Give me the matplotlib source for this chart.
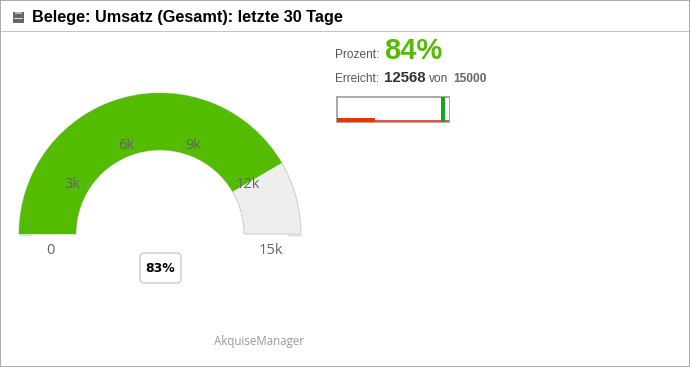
import matplotlib
matplotlib.use("Agg")
import matplotlib.pyplot as plt
import numpy as np
from matplotlib.patches import Wedge, Rectangle, FancyBboxPatch

# values
gauge_min = 0
gauge_max = 15000
gauge_value = 12480  # the green band stops at about 83%, not at the 12568 in the text
gauge_ticks = [0, 3000, 6000, 9000, 12000, 15000]
gauge_tick_labels = ["0", "3k", "6k", "9k", "12k", "15k"]
gauge_badge = "83%"
percent_label = "84%"
reached = "12568"
target = "15000"
bullet_bar = 5100
bullet_marker = 14200

W, H = 690, 367
GREEN = "#53BC00"
PX = 0.72  # one pixel in points

fig = plt.figure(figsize=(W / 100, H / 100), dpi=100)
ax = fig.add_axes([0, 0, 1, 1])
ax.set_xlim(0, W)
ax.set_ylim(0, H)
ax.axis("off")

def y(py):
    # picture coords have y going down
    return H - py

def angle(v):
    return 180 * (1 - (v - gauge_min) / (gauge_max - gauge_min))

def px_rect(x0, top, w, h, color):
    # filled box in picture pixels, stays on the pixel grid
    ax.add_patch(Rectangle((x0, y(top + h)), w, h, fc=color, ec="none"))

# frame and header line
px_rect(0, 0, W, 1, "#ababab")
px_rect(0, H - 1, W, 1, "#ababab")
px_rect(0, 0, 1, H, "#ababab")
px_rect(W - 1, 0, 1, H, "#ababab")
px_rect(1, 31, W - 2, 1, "#c4c4c4")

# header icon
px_rect(13, 12, 11, 11, "#666666")
px_rect(15, 12, 7, 1.5, "#b5b5b5")
px_rect(14, 17.8, 9, 1.2, "#dddddd")
ax.text(32, y(17.5), "Belege: Umsatz (Gesamt): letzte 30 Tage", family="Liberation Sans",
        weight="bold", fontsize=11.72, color="black", va="center", ha="left")

# gauge
cx, cy = 160, y(234)
r_out, r_in = 141, 84
a_val = angle(gauge_value)
ax.add_patch(Wedge((cx, cy), r_out, 0, 180, width=r_out - r_in, fc="#EEEEEE", ec="#cccccc", lw=PX))
ax.add_patch(Wedge((cx, cy), r_out, a_val, 180, width=r_out - r_in, fc=GREEN, ec="none"))
ax.plot([19, 32], [cy - 0.5, cy - 0.5], color="#d0d9ec", lw=1, solid_capstyle="butt")
ax.plot([288, 301], [cy - 0.5, cy - 0.5], color="#ccd6eb", lw=1, solid_capstyle="butt")

# tick labels, inner ones sit on the band, the two ends below it
for t, lab in zip(gauge_ticks, gauge_tick_labels):
    a = np.radians(angle(t))
    if t in (gauge_min, gauge_max):
        lx = 50 if t == gauge_min else 271
        ly = y(250)
    else:
        lx = cx + 109 * np.cos(a)
        ly = cy + 109 * np.sin(a) - 15
    ax.text(lx, ly, lab, family="Open Sans", fontsize=10.5, color="#666666", ha="center", va="center")

# value badge
ax.add_patch(FancyBboxPatch((140, y(283)), 41, 30, boxstyle="round,pad=0,rounding_size=4",
                            fc="white", ec="#cccccc", lw=1))
ax.text(160.5, y(268), gauge_badge, family="DejaVu Sans", weight="bold", fontsize=9,
        color="black", ha="center", va="center")

ax.text(259, y(341), "AkquiseManager", family="Open Sans", fontsize=8.3, color="#999999",
        ha="center", va="center")

# percent block
ax.text(335, y(55.5), "Prozent:", family="Liberation Sans", fontsize=8.6, color="#555555", va="center")
ax.text(384, y(51), percent_label, family="Liberation Sans", weight="bold", fontsize=21,
        color=GREEN, va="center")
ax.text(335, y(78.5), "Erreicht:", family="Liberation Sans", fontsize=8.6, color="#555555", va="center")
ax.text(384, y(78), reached, family="Liberation Sans", weight="bold", fontsize=10.8,
        color="#333333", va="center")
ax.text(429, y(78.5), "von", family="Liberation Sans", fontsize=8.6, color="#555555", va="center")
ax.text(453, y(78.5), target, family="Liberation Sans", weight="bold", fontsize=8.6,
        color="#666666", va="center")

# bullet chart
bx0, bx1 = 337, 449
def bx(v):
    return bx0 + (bx1 - bx0) * v / gauge_max

px_rect(336, 96, 114, 27, "#aaaaaa")
px_rect(337.5, 97.5, 111, 24, "white")
px_rect(bx(0), 120, bx(gauge_max) - bx(0), 2, "#e0534f")
px_rect(bx(0), 118, bx(bullet_bar) - bx(0), 4, "#EE3300")
px_rect(bx(bullet_marker) - 2, 97, 4, 25, "#0EAA1B")

fig.savefig("out.png", dpi=100)
